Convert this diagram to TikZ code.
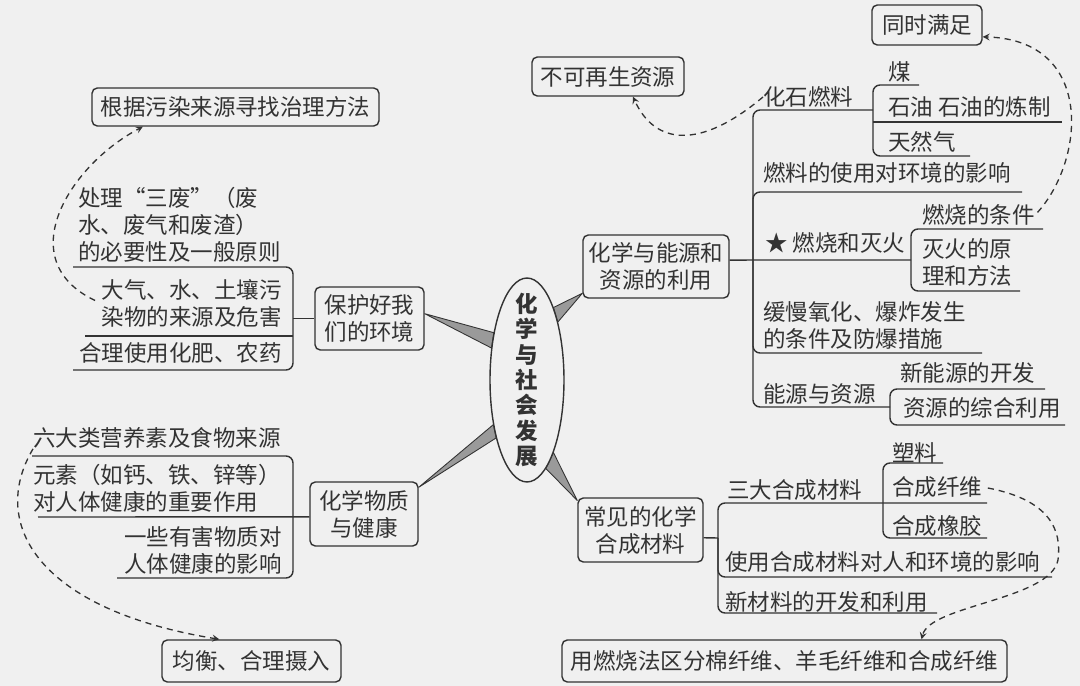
\documentclass[tikz,border=0pt]{standalone}
\usepackage{fontspec}
\setmainfont{Noto Sans CJK SC}
\usetikzlibrary{shapes.geometric}
\definecolor{ink}{HTML}{333333}
\definecolor{paper}{HTML}{F0F0F0}
\definecolor{wedgegray}{HTML}{9A9A9A}
\tikzset{
  mapbox/.style={draw=ink, line width=0.8pt, rounded corners=3pt, inner sep=0pt, align=center, text=ink},
  leaf/.style={inner sep=0pt, text=ink, anchor=west, align=left},
  leafr/.style={inner sep=0pt, text=ink, anchor=east, align=right},
  branch/.style={draw=ink, line width=0.8pt, rounded corners=4pt},
  hint/.style={draw=ink, line width=0.75pt, dash pattern=on 3.5pt off 2.8pt, -stealth},
  spoke/.style={fill=wedgegray, draw=ink, line width=0.5pt, line join=round}
}

\begin{document}
\begin{tikzpicture}[x=0.02cm, y=-0.02cm, font=\fontsize{12.8}{15.4}\selectfont]
    \path[use as bounding box, fill=paper] (0,0) rectangle (1080,686);

    % hub
    \node[ellipse, minimum width=1.48cm, minimum height=4.08cm, inner sep=0pt] (core) at (527,380) {};

    % main boxes
    \node[mapbox, minimum width=2.18cm, minimum height=1.26cm] (envi) at (369.5,318.5) {保护好我\\们的环境};
    \node[mapbox, minimum width=2.16cm, minimum height=1.28cm] (health) at (364,514) {化学物质\\与健康};
    \node[mapbox, minimum width=2.92cm, minimum height=1.26cm] (energy) at (656,266.5) {化学与能源和\\资源的利用};
    \node[mapbox, minimum width=2.50cm, minimum height=1.28cm] (mat) at (640.5,530) {常见的化学\\合成材料};

    % side boxes
    \node[mapbox, minimum width=5.74cm, minimum height=0.76cm] (treat) at (235.5,107) {根据污染来源寻找治理方法};
    \node[mapbox, minimum width=3.58cm, minimum height=0.84cm] (intake) at (251.5,661) {均衡、合理摄入};
    \node[mapbox, minimum width=3.04cm, minimum height=0.78cm] (nonrenew) at (608,76.5) {不可再生资源};
    \node[mapbox, minimum width=2.20cm, minimum height=0.80cm] (both) at (927,25) {同时满足};
    \node[mapbox, minimum width=8.90cm, minimum height=0.84cm] (burn) at (784.5,661) {用燃烧法区分棉纤维、羊毛纤维和合成纤维};

    % left upper
    \node[leaf] (waste) at (78,224.5) {处理“三废”（废\\水、废气和废渣）\\的必要性及一般原则};
    \node[leafr] (air) at (282,303.5) {大气、水、土壤污\\染物的来源及危害};
    \node[leafr] (fert) at (282,353) {合理使用化肥、农药};
    \draw[branch] (73,267) -| (293,370) -- (73,370);
    \draw[branch] (85,336) -- (293,336);
    \draw[branch] (293,318.5) -- (envi.west);

    % left lower
    \node[leaf] (nutri) at (33,438) {六大类营养素及食物来源};
    \node[leaf] (elem) at (33,488) {元素（如钙、铁、锌等）\\对人体健康的重要作用};
    \node[leafr] (harm) at (282,550) {一些有害物质对\\人体健康的影响};
    \draw[branch] (32,456) -| (293,578) -- (117,578);
    \draw[branch] (38,517) -- (health.183);

    % right upper
    \coordinate (eroot) at (753,260);
    \node[leaf] (fossil) at (763,97) {化石燃料};
    \node[leaf] (coal) at (888,72) {煤};
    \node[leaf] (oil) at (888,107) {石油 石油的炼制};
    \node[leaf] (gas) at (888,142) {天然气};
    \node[leaf] (fuelenv) at (763,173) {燃料的使用对环境的影响};
    \node[leaf] (fire) at (765,243) {★ 燃烧和灭火};
    \node[leaf] (cond) at (922,215) {燃烧的条件};
    \node[leaf] (ext) at (922,262.5) {灭火的原\\理和方法};
    \node[leaf] (slow) at (763,325) {缓慢氧化、爆炸发生\\的条件及防爆措施};
    \node[leaf] (res) at (763,394) {能源与资源};
    \node[leaf] (newen) at (900,373) {新能源的开发};
    \node[leaf] (comp) at (903,408) {资源的综合利用};
    \draw[branch] (energy.5) -- (911,260);
    \draw[branch] (eroot) |- (873,110);
    \draw[branch] (eroot) |- (1022,192);
    \draw[branch] (eroot) |- (982,353);
    \draw[branch] (eroot) |- (890,407);
    \draw[branch] (919,85) -| (873,156) -- (970,156);
    \draw[branch] (873,122) -- (1062,122);
    \draw[branch] (1043,229) -| (911,291) -- (1020,291);
    \draw[branch] (1045,389) -| (890,425) -- (1065,425);

    % right lower
    \coordinate (mroot) at (718,538);
    \node[leaf] (three) at (727,490) {三大合成材料};
    \node[leaf] (plastic) at (892,453) {塑料};
    \node[leaf] (fiber) at (892,487) {合成纤维};
    \node[leaf] (rubber) at (892,526) {合成橡胶};
    \node[leaf] (useimp) at (725,562) {使用合成材料对人和环境的影响};
    \node[leaf] (newmat) at (725,602) {新材料的开发和利用};
    \draw[branch] (mat.353) -- (mroot);
    \draw[branch] (mroot) |- (987,503);
    \draw[branch] (mroot) |- (1052,577);
    \draw[branch] (mroot) |- (937,613);
    \draw[branch] (943,463) -| (883,538) -- (987,538);

    % spokes
    \filldraw[spoke] (envi.5) -- (core.125) -- (core.138) -- cycle;
    \filldraw[spoke] (energy.200) -- (core.62) -- (core.70) -- cycle;
    \filldraw[spoke] (health.26) -- (core.233) -- (core.242) -- cycle;
    \filldraw[spoke] (mat.155) -- (core.282) -- (core.290) -- cycle;
    \node[draw=ink, line width=0.8pt, fill=paper, ellipse, minimum width=1.48cm, minimum height=4.08cm, inner sep=0pt] at (core.center) {};
    \node[inner sep=0pt, text=ink, align=center, font=\fontsize{12.8}{14.5}\selectfont\bfseries] (coretext) at (core.center) {化\\学\\与\\社\\会\\发\\展};

    % dashed hints
    \coordinate (fiberturn) at (1058,560);
    \draw[hint, shorten <=4pt] (air.west) .. controls (10,260) and (70,165) .. (treat.192);
    \draw[hint] (nutri.south west) .. controls (-12,525) and (40,610) .. (intake.146);
    \draw[hint] (fossil.west) .. controls (700,150) and (655,145) .. (nonrenew.321);
    \draw[hint, shorten <=2pt] (cond.east) .. controls (1085,160) and (1095,40) .. (both.348);
    \draw[hint, shorten <=3pt] (fiber.east) .. controls (1050,500) and (1062,530) .. (fiberturn) .. controls (1050,600) and (930,605) .. (burn.9);
\end{tikzpicture}
\end{document}
